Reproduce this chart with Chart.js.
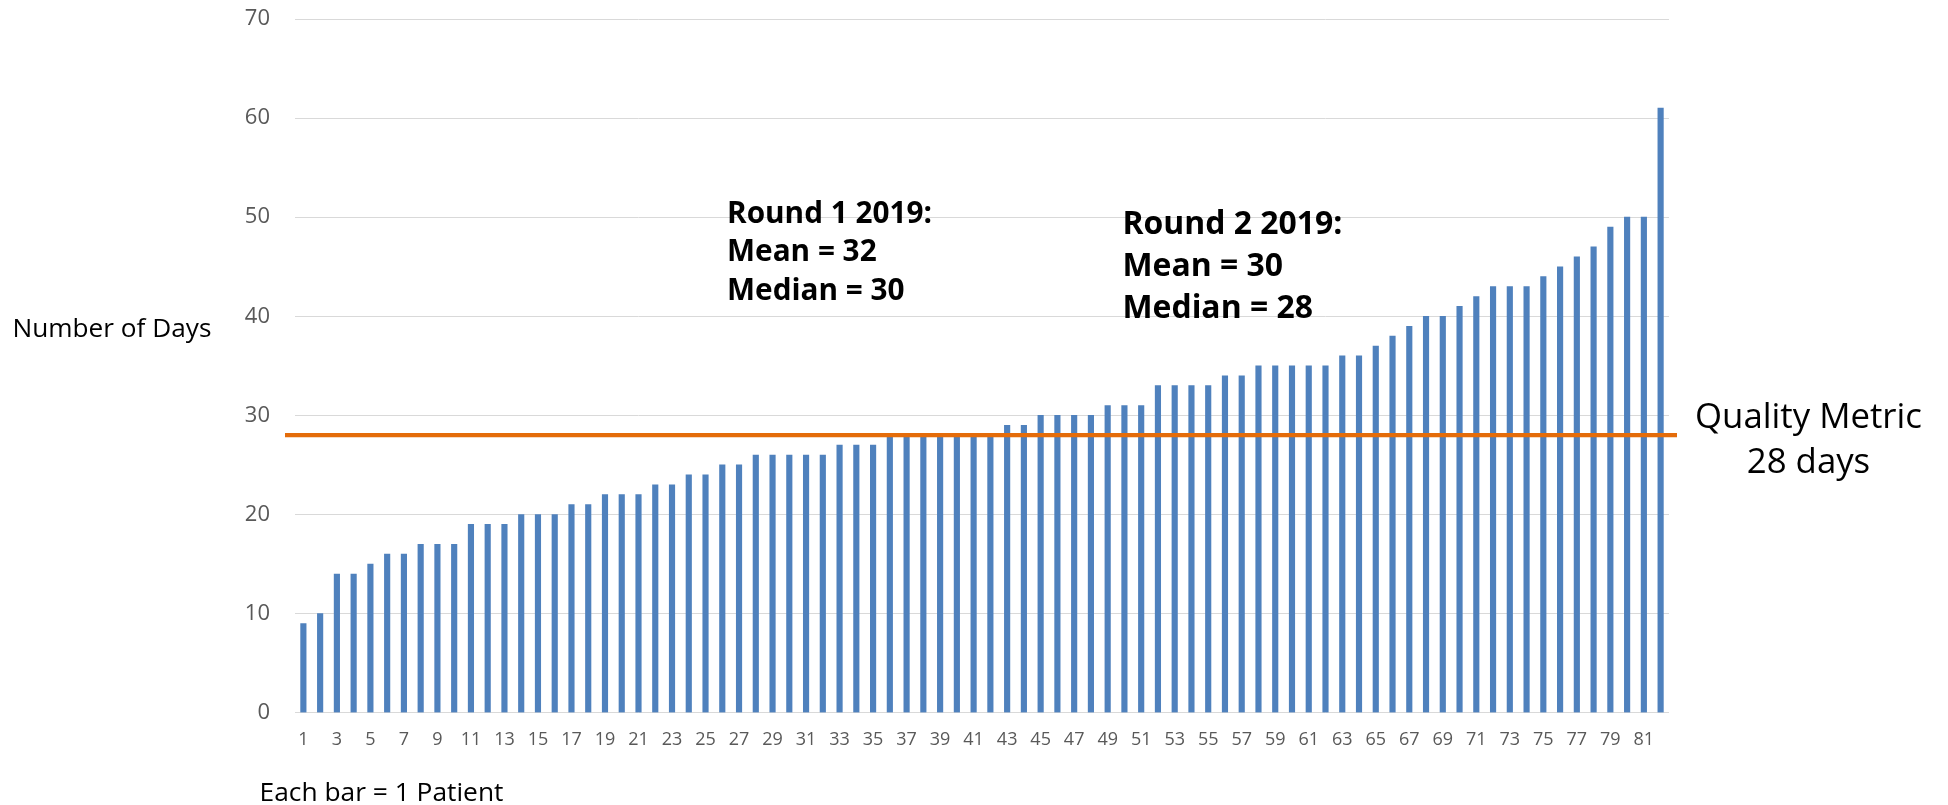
<!DOCTYPE html>
<html>
<head>
<meta charset="utf-8">
<script src="https://cdn.jsdelivr.net/npm/chart.js@4/dist/chart.umd.min.js"></script>
<style>
html,body{margin:0;padding:0;background:#fff;overflow:hidden}
#wrap{width:1948px;height:805px;position:relative}
</style>
</head>
<body>
<div id="wrap"><canvas id="c" width="1948" height="805"></canvas></div>
<script>
// ---- data ----
const patients = [1,2,3,4,5,6,7,8,9,10,11,12,13,14,15,16,17,18,19,20,
  21,22,23,24,25,26,27,28,29,30,31,32,33,34,35,36,37,38,39,40,
  41,42,43,44,45,46,47,48,49,50,51,52,53,54,55,56,57,58,59,60,
  61,62,63,64,65,66,67,68,69,70,71,72,73,74,75,76,77,78,79,80,81,82];
const days = [9,10,14,14,15,16,16,17,17,17,19,19,19,20,20,20,21,21,22,22,22,23,23,24,
  24,25,25,26,26,26,26,26,27,27,27,28,28,28,28,28,28,28,29,29,30,30,30,30,
  31,31,31,33,33,33,33,34,34,35,35,35,35,35,36,36,37,38,39,40,40,41,42,43,
  43,43,44,45,46,47,49,50,50,61];
const yTicks = [0,10,20,30,40,50,60,70];
const qualityMetricDays = 28;
const qualityLabel = ['Quality Metric', '28 days'];
const round1Text = ['Round 1 2019:', 'Mean = 32', 'Median = 30'];
const round2Text = ['Round 2 2019:', 'Mean = 30', 'Median = 28'];
const yAxisTitle = 'Number of Days';
const xAxisNote = 'Each bar = 1 Patient';

// ---- styling ----
const FAMILY = '"Open Sans", "Liberation Sans", sans-serif';
const CAP = 0.714;
function fitSize(ctx, text, weight, targetW) {
  ctx.font = weight + ' 100px ' + FAMILY;
  return 100 * targetW / ctx.measureText(text).width;
}
function drawCapText(ctx, text, x, capCenterY, size, weight, align) {
  ctx.font = weight + ' ' + size + 'px ' + FAMILY;
  ctx.textAlign = align;
  ctx.textBaseline = 'alphabetic';
  ctx.fillText(text, x, capCenterY + CAP * size / 2);
}

const annotations = {
  id: 'annotations',
  afterDatasetsDraw(chart) {
    const ctx = chart.ctx;
    const area = chart.chartArea;
    const y = chart.scales.y.getPixelForValue(qualityMetricDays);
    ctx.save();
    ctx.strokeStyle = '#E46C0A';
    ctx.lineWidth = 4.3;
    ctx.beginPath();
    ctx.moveTo(area.left - 10, y);
    ctx.lineTo(area.right + 8, y);
    ctx.stroke();
    ctx.restore();
  },
  afterDraw(chart) {
    const ctx = chart.ctx;
    ctx.save();
    ctx.fillStyle = '#000';
    let s = fitSize(ctx, yAxisTitle, 'normal', 199);
    drawCapText(ctx, yAxisTitle, 12.5, 327.5, s, 'normal', 'left');
    s = fitSize(ctx, xAxisNote, 'normal', 244);
    drawCapText(ctx, xAxisNote, 259.5, 792, s, 'normal', 'left');
    s = fitSize(ctx, qualityLabel[0], 'normal', 227);
    drawCapText(ctx, qualityLabel[0], 1808.5, 416, s, 'normal', 'center');
    drawCapText(ctx, qualityLabel[1], 1808.5, 460.5, s, 'normal', 'center');
    s = fitSize(ctx, round1Text[0], 'bold', 205);
    round1Text.forEach((t, i) => drawCapText(ctx, t, 727, 212 + i * 38.7, s, 'bold', 'left'));
    s = fitSize(ctx, round2Text[0], 'bold', 220);
    round2Text.forEach((t, i) => drawCapText(ctx, t, 1122.5, 223 + i * 41.6, s, 'bold', 'left'));
    ctx.restore();
  }
};

new Chart(document.getElementById('c'), {
  type: 'bar',
  data: {
    labels: patients,
    datasets: [{
      data: days,
      backgroundColor: '#4F81BD',
      borderWidth: 0,
      barThickness: 5.5
    }]
  },
  options: {
    responsive: false,
    animation: false,
    devicePixelRatio: 1,
    layout: { padding: { left: 0, right: 279, top: 19, bottom: 52.3 } },
    plugins: { legend: { display: false }, tooltip: { enabled: false } },
    scales: {
      x: {
        grid: { display: false, drawTicks: false },
        border: { display: false },
        afterFit(scale) { scale.height = 40; scale.paddingLeft = 0; scale.paddingRight = 0; },
        ticks: {
          autoSkip: false,
          maxRotation: 0,
          minRotation: 0,
          padding: 16,
          color: '#595959',
          font: { family: FAMILY, size: 18 },
          callback(value, index) { return index % 2 === 0 ? String(patients[index]) : ''; }
        }
      },
      y: {
        min: 0,
        max: 70,
        afterBuildTicks(scale) { scale.ticks = yTicks.map(v => ({ value: v })); },
        afterFit(scale) { scale.width = 295; scale.paddingTop = 0; scale.paddingBottom = 0; },
        grid: { color: '#D9D9D9', lineWidth: 1, drawTicks: false },
        border: { display: false },
        ticks: {
          padding: 25,
          color: '#595959',
          font: { family: FAMILY, size: 22 }
        }
      }
    }
  },
  plugins: [annotations]
});
</script>
</body>
</html>
